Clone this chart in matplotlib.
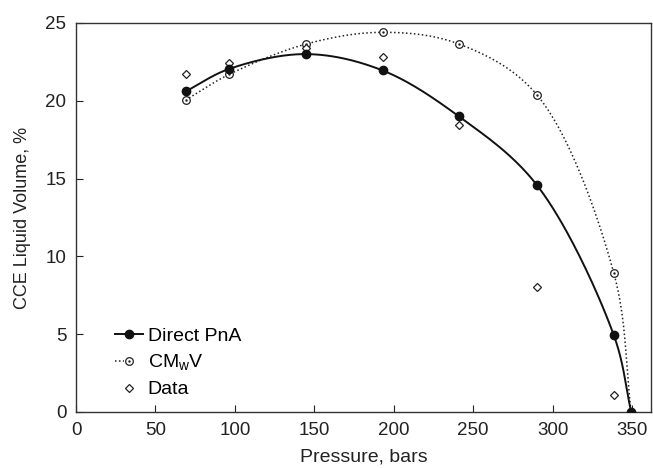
import numpy as np
import matplotlib.pyplot as plt
from matplotlib.legend_handler import HandlerLine2D
from matplotlib.lines import Line2D

plt.rcParams['font.family'] = ['Liberation Sans', 'DejaVu Sans']
plt.rcParams['mathtext.fontset'] = 'custom'
plt.rcParams['mathtext.rm'] = 'Liberation Sans'

# Pressure, bars
pressure = [69, 96.5, 145, 193, 241, 290, 338.5, 349.5]
direct_pna = [20.6, 22.05, 23.0, 21.95, 19.0, 14.6, 4.95, 0.0]
cmwv = [20.05, 21.7, 23.65, 24.4, 23.65, 20.4, 8.95, 0.0]

data_p = [69, 96.5, 145, 193, 241, 290, 338.5]
data_vol = [21.7, 22.4, 23.4, 22.8, 18.45, 8.05, 1.1]

XMAX, YMAX = 362, 25


def smooth(x, y, sx=1.0, sy=1.0, n=40):
    # centripetal Catmull-Rom through the points, computed in scaled units
    p = np.column_stack([np.asarray(x) * sx, np.asarray(y) * sy]).astype(float)
    p = np.vstack([2 * p[0] - p[1], p, 2 * p[-1] - p[-2]])
    out = []
    for i in range(1, len(p) - 2):
        p0, p1, p2, p3 = p[i - 1], p[i], p[i + 1], p[i + 2]
        t0 = 0.0
        t1 = t0 + np.linalg.norm(p1 - p0) ** 0.5
        t2 = t1 + np.linalg.norm(p2 - p1) ** 0.5
        t3 = t2 + np.linalg.norm(p3 - p2) ** 0.5
        t = np.linspace(t1, t2, n)[:, None]
        a1 = (t1 - t) / (t1 - t0) * p0 + (t - t0) / (t1 - t0) * p1
        a2 = (t2 - t) / (t2 - t1) * p1 + (t - t1) / (t2 - t1) * p2
        a3 = (t3 - t) / (t3 - t2) * p2 + (t - t2) / (t3 - t2) * p3
        b1 = (t2 - t) / (t2 - t0) * a1 + (t - t0) / (t2 - t0) * a2
        b2 = (t3 - t) / (t3 - t1) * a2 + (t - t1) / (t3 - t1) * a3
        c = (t2 - t) / (t2 - t1) * b1 + (t - t1) / (t2 - t1) * b2
        out.append(c if i == 1 else c[1:])
    out = np.vstack(out)
    return out[:, 0] / sx, out[:, 1] / sy


class DottedCircleHandler(HandlerLine2D):
    # dotted stub left of an open circle with a centre dot
    def create_artists(self, legend, orig_handle, xdescent, ydescent,
                       width, height, fontsize, trans):
        x0 = -xdescent
        xm = x0 + width / 2
        ym = (height - ydescent) / 2
        stub = Line2D([x0, x0 + 0.3 * width], [ym, ym], color='#222222',
                      lw=1.1, ls=(0, (1, 1.6)), transform=trans)
        ring = Line2D([xm], [ym], marker='o', mfc='white', mec='#222222',
                      mew=0.9, ms=5.5, ls='none', transform=trans)
        dot = Line2D([xm], [ym], marker='.', color='#222222', ms=1.5,
                     ls='none', transform=trans)
        return [stub, ring, dot]


fig = plt.figure(figsize=(6.53, 4.68), dpi=100)
ax = fig.add_axes([0.1164, 0.1197, 0.8806, 0.8312])

# scale so the curve bends like it would on screen
kx, ky = 575 / XMAX, 389 / YMAX

sx, sy = smooth(pressure, direct_pna, kx, ky)
ax.plot(sx, sy, color='#111111', lw=1.4, zorder=3)
ax.plot(pressure, direct_pna, 'o', color='#111111', ms=6, zorder=4)

cx, cy = smooth(pressure, cmwv, kx, ky)
ax.plot(cx, cy, color='#222222', lw=1.1, ls=(0, (1, 1.6)), zorder=2)
ax.plot(pressure[:-1], cmwv[:-1], 'o', mfc='white', mec='#222222', mew=0.9,
        ms=5.5, zorder=3)
ax.plot(pressure[:-1], cmwv[:-1], '.', color='#222222', ms=1.5, zorder=3)

ax.plot(data_p, data_vol, 'D', mfc='white', mec='#222222', mew=0.9, ms=4.2,
        zorder=3)

ax.set_xlim(0, XMAX)
ax.set_ylim(0, YMAX)
ax.set_xticks(range(0, 351, 50))
ax.set_yticks(range(0, 26, 5))
ax.tick_params(direction='in', length=5, width=0.8, labelsize=13.5, pad=7,
               colors='#222222')
for s in ax.spines.values():
    s.set_color('#333333')
    s.set_linewidth(1.0)

ax.set_xlabel('Pressure, bars', fontsize=14, labelpad=7, color='#222222')
ax.set_ylabel('CCE Liquid Volume, %', fontsize=13, labelpad=10,
              color='#222222')

# legend handles
h1, = ax.plot([], [], '-o', color='#111111', lw=1.4, ms=6)
h2, = ax.plot([], [], 'o', mfc='white', mec='#222222', ms=5.5)
h3, = ax.plot([], [], 'D', mfc='white', mec='#222222', mew=0.9, ms=4.2,
              ls='none')
ax.legend([h1, h2, h3], ['Direct PnA', r'CM$_\mathrm{w}$V', 'Data'],
          handler_map={h2: DottedCircleHandler()},
          loc='lower left', bbox_to_anchor=(0.045, 0.0), frameon=False,
          fontsize=14, handlelength=1.4, handletextpad=0.25,
          labelspacing=0.4, borderpad=0.2)

fig.savefig('out.png', dpi=100)
